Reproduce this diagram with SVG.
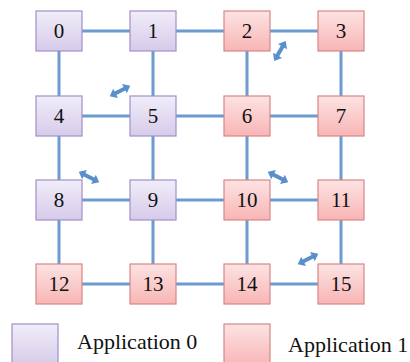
<svg xmlns="http://www.w3.org/2000/svg" width="410" height="362" viewBox="0 0 410 362">
  <defs>
    <linearGradient id="gPurple" x1="0" y1="0" x2="0" y2="1">
      <stop offset="0" stop-color="#f1edf9"/>
      <stop offset="1" stop-color="#d6cbea"/>
    </linearGradient>
    <linearGradient id="gPink" x1="0" y1="0" x2="0" y2="1">
      <stop offset="0" stop-color="#fde3e3"/>
      <stop offset="1" stop-color="#f8b5b5"/>
    </linearGradient>
    <!-- double-headed block arrow, centred on the origin, pointing along x -->
    <path id="dblArrow" d="M-11.5,0 L-5,-5.2 L-5,-2 L5,-2 L5,-5.2 L11.5,0 L5,5.2 L5,2 L-5,2 L-5,5.2 Z"/>
  </defs>
  <style>
    .link { stroke: #6b9bcf; stroke-width: 3; fill: none; }
    .app0 { fill: url(#gPurple); stroke: #a28fc6; stroke-width: 1.2; }
    .app1 { fill: url(#gPink); stroke: #d88686; stroke-width: 1.2; }
    .lbl { font-family: "Liberation Serif", "DejaVu Serif", serif; font-size: 21px; fill: #111; text-anchor: middle; }
    .leg { font-family: "Liberation Serif", "DejaVu Serif", serif; font-size: 22px; fill: #111; }
    .arrow { fill: #5b8fcc; }
  </style>

  <rect width="410" height="362" fill="#ffffff"/>

  <!-- mesh links -->
  <g id="connectors">
    <line class="link" x1="59" y1="31" x2="341" y2="31"/>
    <line class="link" x1="59" y1="116" x2="341" y2="116"/>
    <line class="link" x1="59" y1="200" x2="341" y2="200"/>
    <line class="link" x1="59" y1="284" x2="341" y2="284"/>
    <line class="link" x1="59" y1="31" x2="59" y2="284"/>
    <line class="link" x1="153" y1="31" x2="153" y2="284"/>
    <line class="link" x1="247" y1="31" x2="247" y2="284"/>
    <line class="link" x1="341" y1="31" x2="341" y2="284"/>
  </g>

  <!-- traffic arrows -->
  <g id="arrows">
    <use class="arrow" href="#dblArrow" transform="translate(120,91) rotate(-27)"/>
    <use class="arrow" href="#dblArrow" transform="translate(280,51) rotate(-60)"/>
    <use class="arrow" href="#dblArrow" transform="translate(89,177) rotate(27)"/>
    <use class="arrow" href="#dblArrow" transform="translate(278,177) rotate(27)"/>
    <use class="arrow" href="#dblArrow" transform="translate(308,259) rotate(-27)"/>
  </g>

  <!-- cores -->
  <g id="n0"><rect class="app0" x="36" y="11" width="46" height="40"/><text class="lbl" x="59" y="38">0</text></g>
  <g id="n1"><rect class="app0" x="130" y="11" width="46" height="40"/><text class="lbl" x="153" y="38">1</text></g>
  <g id="n2"><rect class="app1" x="224" y="11" width="46" height="40"/><text class="lbl" x="247" y="38">2</text></g>
  <g id="n3"><rect class="app1" x="318" y="11" width="46" height="40"/><text class="lbl" x="341" y="38">3</text></g>

  <g id="n4"><rect class="app0" x="36" y="96" width="46" height="40"/><text class="lbl" x="59" y="123">4</text></g>
  <g id="n5"><rect class="app0" x="130" y="96" width="46" height="40"/><text class="lbl" x="153" y="123">5</text></g>
  <g id="n6"><rect class="app1" x="224" y="96" width="46" height="40"/><text class="lbl" x="247" y="123">6</text></g>
  <g id="n7"><rect class="app1" x="318" y="96" width="46" height="40"/><text class="lbl" x="341" y="123">7</text></g>

  <g id="n8"><rect class="app0" x="36" y="180" width="46" height="40"/><text class="lbl" x="59" y="207">8</text></g>
  <g id="n9"><rect class="app0" x="130" y="180" width="46" height="40"/><text class="lbl" x="153" y="207">9</text></g>
  <g id="n10"><rect class="app1" x="224" y="180" width="46" height="40"/><text class="lbl" x="247" y="207">10</text></g>
  <g id="n11"><rect class="app1" x="318" y="180" width="46" height="40"/><text class="lbl" x="341" y="207">11</text></g>

  <g id="n12"><rect class="app1" x="36" y="264" width="46" height="40"/><text class="lbl" x="59" y="291">12</text></g>
  <g id="n13"><rect class="app1" x="130" y="264" width="46" height="40"/><text class="lbl" x="153" y="291">13</text></g>
  <g id="n14"><rect class="app1" x="224" y="264" width="46" height="40"/><text class="lbl" x="247" y="291">14</text></g>
  <g id="n15"><rect class="app1" x="318" y="264" width="46" height="40"/><text class="lbl" x="341" y="291">15</text></g>

  <!-- legend -->
  <g id="legend0">
    <rect class="app0" x="12" y="324" width="46" height="42"/>
    <text class="leg" x="77" y="349">Application 0</text>
  </g>
  <g id="legend1">
    <rect class="app1" x="224" y="324" width="46" height="42"/>
    <text class="leg" x="288" y="352">Application 1</text>
  </g>
</svg>
